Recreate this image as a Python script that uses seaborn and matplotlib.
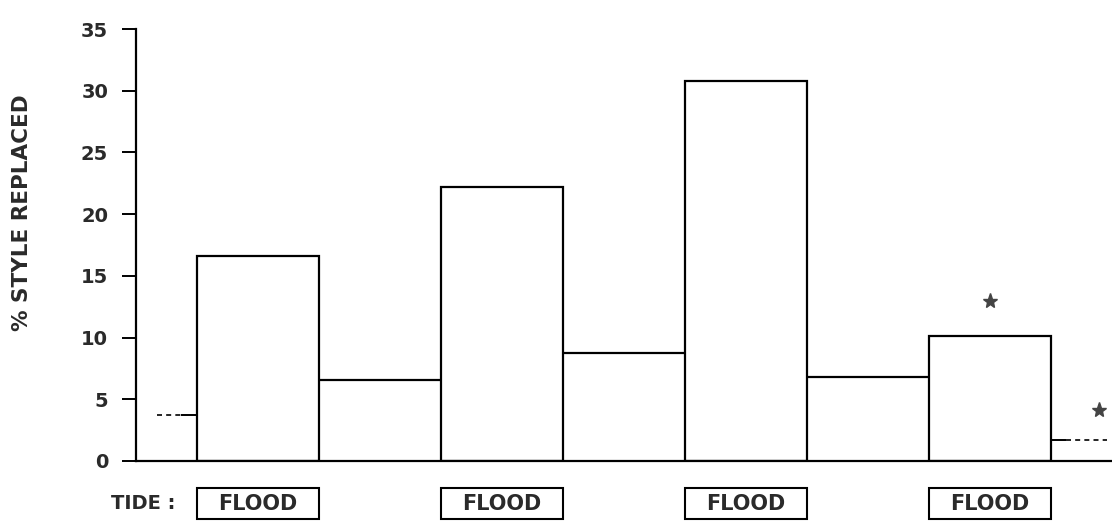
import matplotlib
matplotlib.use("Agg")
import matplotlib.pyplot as plt
import seaborn as sns
import pandas as pd
from matplotlib.patches import Rectangle
from matplotlib.transforms import blended_transform_factory

# Flood-tide periods (bars) and the ebb periods between them (flat segments)
flood_period = [1, 3, 5, 7]
flood_pct = [16.6, 22.2, 30.8, 10.1]

ebb_start = [1.5, 3.5, 5.5]
ebb_end = [2.5, 4.5, 6.5]
ebb_pct = [6.6, 8.75, 6.8]

# Partial ebb periods at either end of the series
lead_pct = 3.7
tail_pct = 1.7

# Significance markers
star_x = [7.0, 7.89]
star_pct = [13.0, 4.1]

y_ticks = [0, 5, 10, 15, 20, 25, 30, 35]
tide_label = "TIDE :"
flood_label = "FLOOD"
y_label = "% STYLE REPLACED"

sns.set_theme(style="white")
plt.rcParams["font.family"] = ["DejaVu Sans"]
plt.rcParams["font.weight"] = "bold"
text_color = "#2a2a2a"

fig = plt.figure(figsize=(11.12, 5.22), dpi=100)
ax = fig.add_axes([136 / 1112, 61 / 522, 976 / 1112, 432 / 522])

df = pd.DataFrame({"period": flood_period, "pct": flood_pct})
sns.barplot(data=df, x="period", y="pct", native_scale=True, width=0.5,
            color="white", saturation=1, edgecolor="black", linewidth=1.6,
            errorbar=None, ax=ax)

# Ebb-tide levels between floods
ax.hlines(ebb_pct, ebb_start, ebb_end, color="black", linewidth=1.6)

# Incomplete ebb periods at the start and end
ax.hlines(lead_pct, 0.37, 0.5, color="black", linewidth=1.4)
ax.hlines(lead_pct, 0.17, 0.37, color="black", linewidth=1.2,
          linestyles=(0, (3, 2.5)))
ax.hlines(tail_pct, 7.5, 7.62, color="black", linewidth=1.4)
ax.hlines(tail_pct, 7.62, 7.96, color="black", linewidth=1.2,
          linestyles=(0, (3, 2.5)))

ax.plot(star_x, star_pct, linestyle="none", marker="*", markersize=11,
        color="#444444")

ax.set_xlim(0, 8)
ax.set_ylim(0, 35)
ax.set_xticks([])
ax.set_yticks(y_ticks)
ax.set_xlabel("")
ax.set_ylabel(y_label, fontsize=15.5, fontweight="bold", color=text_color)
ax.yaxis.set_label_coords(-0.107, 0.575)

ax.tick_params(axis="y", direction="out", length=10, width=1.4,
               color="black", pad=10, labelsize=14, labelcolor=text_color,
               left=True)
for lab in ax.get_yticklabels():
    lab.set_fontweight("bold")

for side in ("top", "right"):
    ax.spines[side].set_visible(False)
for side in ("left", "bottom"):
    ax.spines[side].set_color("black")
    ax.spines[side].set_linewidth(1.6)

# Tide phase boxes under each flood bar
trans = blended_transform_factory(ax.transData, ax.transAxes)
ax.text(0.06, -0.099, tide_label, transform=trans, ha="center", va="center",
        fontsize=14, fontweight="bold", color=text_color, clip_on=False)
for p in flood_period:
    ax.add_patch(Rectangle((p - 0.5, -0.134), 1.0, 0.072, transform=trans,
                           fill=False, edgecolor="black", linewidth=1.5,
                           clip_on=False))
    ax.text(p, -0.099, flood_label, transform=trans, ha="center",
            va="center", fontsize=15, fontweight="bold", color=text_color,
            clip_on=False)

fig.savefig("out.png", dpi=100, facecolor="white")
